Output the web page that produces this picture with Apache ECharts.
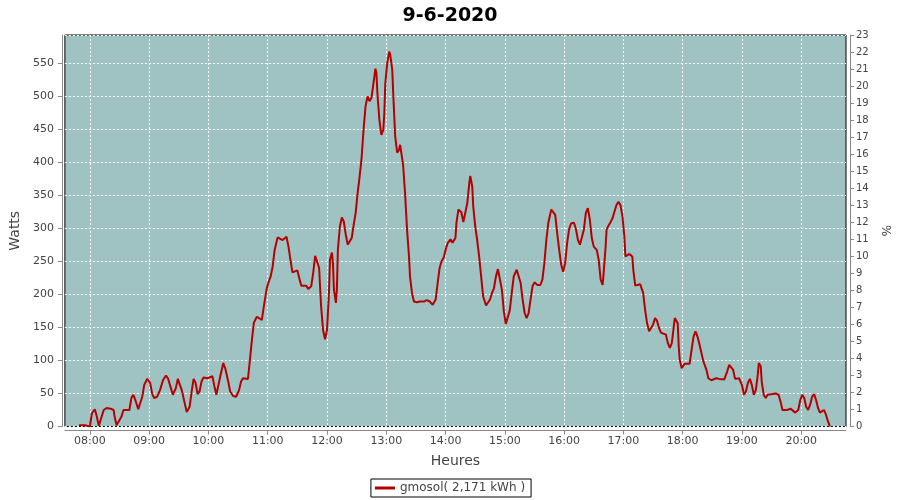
<!DOCTYPE html>
<html>
<head>
<meta charset="utf-8">
<script src="https://cdn.jsdelivr.net/npm/echarts@6/dist/echarts.min.js"></script>
<style>html,body{margin:0;padding:0;background:#fff}#c{width:900px;height:500px}</style>
</head>
<body>
<div id="c"></div>
<script>
var titleText = '9-6-2020';
var seriesName = 'gmosol( 2,171 kWh )';
var tickHours = ['08:00','09:00','10:00','11:00','12:00','13:00','14:00','15:00','16:00','17:00','18:00','19:00','20:00'];
var times = [
'07:49','07:55','07:57','08:00','08:02','08:05','08:07','08:09','08:11','08:14','08:17','08:19','08:21','08:24','08:25','08:27','08:29','08:32','08:34','08:36','08:40','08:42','08:44','08:46','08:49','08:51','08:53','08:55','08:58','09:01','09:03','09:05','09:08','09:11','09:14','09:17','09:19','09:22','09:24','09:27','09:29','09:31','09:33','09:36','09:38','09:41','09:43','09:45','09:47','09:49','09:51','09:53','09:55','09:59','10:01','10:04','10:06','10:08','10:10','10:12','10:15','10:17','10:20','10:22','10:25','10:28','10:31','10:33',
'10:35','10:37','10:40','10:42','10:44','10:46','10:49','10:51','10:54','10:56','10:59','11:01','11:03','11:05','11:07','11:10','11:12','11:15','11:17','11:19','11:21','11:23','11:25','11:27','11:30','11:32','11:34','11:36','11:39','11:41','11:44','11:46','11:48','11:50','11:52','11:54','11:56','11:58','12:00','12:02','12:03','12:05','12:06','12:07','12:09','12:10','12:11','12:13','12:15','12:17','12:19','12:21','12:23','12:25','12:27','12:29','12:31','12:33','12:35','12:37','12:39','12:41','12:43','12:45','12:47','12:49','12:50','12:51','12:53','12:55','12:57','12:58','12:59','13:01','13:03','13:04','13:06','13:07','13:09','13:11','13:13','13:14','13:16','13:17','13:19','13:21','13:23','13:24','13:26','13:28','13:31',
'13:34','13:38','13:41','13:44','13:47','13:50','13:52','13:54','13:56','13:58','14:00','14:02','14:05','14:07','14:10','14:11','14:13','14:16','14:18','14:20','14:22','14:24','14:25','14:27','14:28','14:30','14:32','14:34','14:36','14:38','14:41','14:43','14:45','14:47','14:49','14:51','14:53','14:55','14:57','14:59','15:01','15:03','15:05','15:07','15:09','15:12','15:14','15:16','15:18','15:20','15:22','15:24','15:26','15:28','15:30','15:33','15:36','15:38','15:40','15:42','15:44','15:47','15:49','15:51','15:53','15:55','15:57','15:59','16:01','16:03','16:05','16:07','16:10','16:12','16:14','16:16','16:18','16:20','16:22','16:24','16:26','16:28','16:30','16:33','16:35','16:37','16:39',
'16:40','16:42','16:43','16:45','16:47','16:49','16:51','16:53','16:55','16:57','16:59','17:01','17:02','17:04','17:06','17:09','17:10','17:12','17:14','17:17','17:20','17:22','17:24','17:26','17:28','17:30','17:32','17:34','17:36','17:38','17:40','17:43','17:45','17:47','17:49','17:51','17:52','17:53','17:55','17:56','17:57','17:59','18:00','18:02','18:04','18:07','18:09','18:11','18:13','18:15','18:17','18:19','18:21','18:24','18:26','18:29','18:31','18:34','18:37','18:39','18:42','18:45','18:47','18:49','18:51','18:53','18:55','18:57','19:00','19:02','19:04','19:06','19:08','19:10','19:12','19:14','19:16','19:17','19:19','19:20','19:22','19:24','19:26','19:28','19:31','19:34','19:37','19:39','19:41','19:43','19:46','19:49','19:51','19:54','19:57','19:59','20:01','20:03','20:05','20:07','20:09','20:11','20:13','20:15','20:17','20:19','20:21','20:23','20:25','20:27','20:29','20:30'
];
var watts = [
2,2,0,0,20,26,15,1,2,25,28,26,27,25,15,2,2,15,25,27,25,43,48,40,26,28,45,63,72,66,50,43,45,55,70,77,73,58,48,58,72,71,55,35,22,30,53,72,66,49,53,68,74,73,73,76,61,48,48,76,96,88,68,53,46,45,55,68,
73,70,72,101,131,157,166,164,161,181,209,219,227,242,267,286,284,282,285,287,272,252,233,234,236,224,213,213,213,208,212,232,258,260,240,182,146,132,146,202,252,263,247,207,187,207,267,302,316,310,290,275,275,285,305,323,353,378,406,449,484,499,492,497,519,541,535,504,464,441,449,474,519,550,567,562,540,504,439,414,419,426,424,396,353,298,257,227,202,189,188,
189,189,191,189,184,192,217,240,250,255,267,277,283,278,285,308,328,324,309,310,338,368,379,363,333,303,282,257,227,197,183,183,192,202,209,227,238,236,207,174,155,156,176,202,227,237,235,217,192,172,164,171,192,212,218,214,214,222,247,282,308,328,330,320,292,267,245,234,247,277,298,307,308,298,282,275,277,298,323,330,313,285,272,267,252,
222,214,232,272,298,304,309,315,325,335,340,335,318,287,257,257,261,257,237,213,211,215,202,176,156,144,144,154,164,160,149,142,144,139,126,119,126,151,164,167,156,121,101,88,91,95,93,95,116,136,144,136,124,111,98,86,73,70,71,73,72,70,71,83,93,95,86,72,72,73,63,48,53,66,72,63,48,55,78,96,91,68,48,43,48,50,49,50,48,38,25,23,25,27,25,21,25,40,48,43,30,25,33,45,49,40,28,21,23,25,18,8,0
];

function toMin(t){var p=t.split(':');return (+p[0])*60+(+p[1]);}
function fmt(m){var h=Math.floor(m/60),mm=Math.round(m%60);return (h<10?'0':'')+h+':'+(mm<10?'0':'')+mm;}
var data = times.map(function(t,i){return [toMin(t), watts[i]];});
var tickVals = tickHours.map(toMin);

var chart = echarts.init(document.getElementById('c'), null, {renderer:'canvas'});
var grey = '#444';
var ff = 'DejaVu Sans';
chart.setOption({
  animation:false,
  backgroundColor:'#ffffff',
  title:{text:titleText,left:'center',top:2,textStyle:{fontFamily:ff,fontSize:19,fontWeight:'bold',color:'#000'}},
  grid:{left:64,right:54,top:35,bottom:73.5,show:true,backgroundColor:'#9fc3c3',borderColor:'#000',borderWidth:1},
  legend:{bottom:3,left:'center',data:[seriesName],borderColor:'#000',borderWidth:1,padding:[3,6,3,4],itemWidth:20,itemHeight:3,icon:'rect',
    textStyle:{fontFamily:ff,fontSize:12,color:grey},itemGap:4},
  xAxis:{type:'value',min:454.7,max:1245.3,name:'Heures',nameLocation:'middle',nameGap:24,
    nameTextStyle:{fontFamily:ff,fontSize:14,color:grey},
    offset:4,
    axisLine:{show:true,onZero:false,lineStyle:{color:'#888'}},
    axisTick:{show:true,customValues:tickVals,length:4,lineStyle:{color:'#888'}},
    axisLabel:{customValues:tickVals,formatter:function(v){return fmt(v);},fontFamily:ff,fontSize:11,color:grey,margin:5},
    splitLine:{show:true,lineStyle:{color:'#ffffff',type:[2,2],width:1}}},
  yAxis:[
    {type:'value',min:0,max:592,interval:50,name:'Watts',nameLocation:'middle',nameGap:31,nameRotate:90,
     nameTextStyle:{fontFamily:ff,fontSize:14,color:grey},
     offset:3,
     axisLine:{show:true,lineStyle:{color:'#888'}},
     axisTick:{show:true,length:4,lineStyle:{color:'#888'}},
     axisLabel:{fontFamily:ff,fontSize:11,color:grey,showMaxLabel:false,margin:8},
     splitLine:{show:true,lineStyle:{color:'#ffffff',type:[2,2],width:1}}},
    {type:'value',min:0,max:23,interval:1,name:'%',nameLocation:'middle',nameGap:21,nameRotate:-90,
     position:'right',
     nameTextStyle:{fontFamily:ff,fontSize:12,color:grey},
     offset:4,
     axisLine:{show:true,lineStyle:{color:'#888'}},
     axisTick:{show:true,length:4,lineStyle:{color:'#888'}},
     axisLabel:{fontFamily:ff,fontSize:10,color:grey,margin:6},
     splitLine:{show:false}}
  ],
  series:[{name:seriesName,type:'line',yAxisIndex:0,data:data,showSymbol:false,symbol:'none',
    lineStyle:{color:'#b40000',width:2},itemStyle:{color:'#b40000'}}]
});
</script>
</body>
</html>
